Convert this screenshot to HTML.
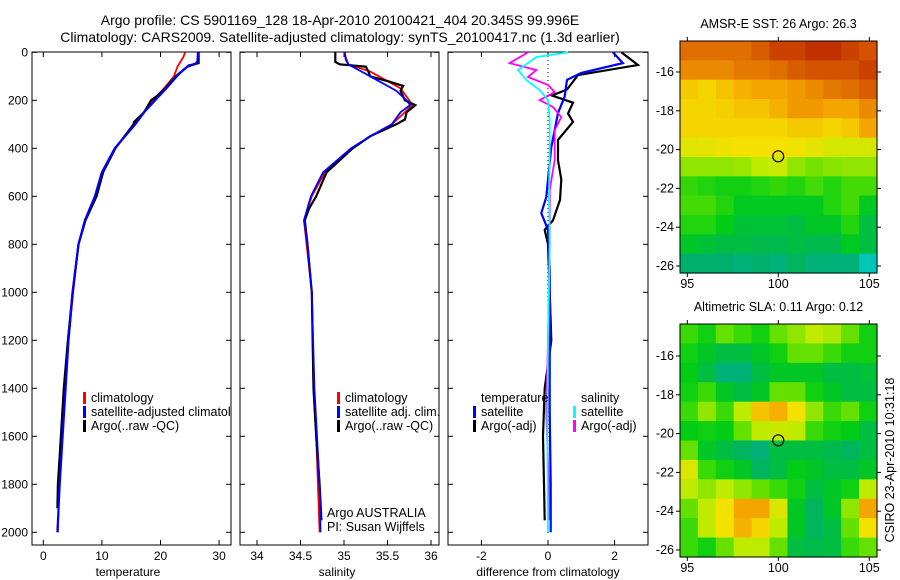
<!DOCTYPE html>
<html><head><meta charset="utf-8"><style>
body{margin:0;background:#fff;}
svg{display:block;font-family:"Liberation Sans",sans-serif;}
text{fill:#000;}
</style></head><body>
<svg id="fig" width="900" height="580" viewBox="0 0 900 580" xmlns="http://www.w3.org/2000/svg">
<defs><clipPath id="p1clip"><rect x="32" y="52" width="199" height="493"/></clipPath></defs>
<rect width="900" height="580" fill="#fff"/>
<text x="340" y="25" font-size="14" text-anchor="middle">Argo profile: CS 5901169_128 18-Apr-2010 20100421_404 20.345S 99.996E</text>
<text x="340" y="42" font-size="14" text-anchor="middle">Climatology: CARS2009. Satellite-adjusted climatology: synTS_20100417.nc (1.3d earlier)</text>
<g id="g"></g>
</svg>
<script>
// ---- profile data ----
const depthTicks=[0,200,400,600,800,1000,1200,1400,1600,1800,2000];
const tempTicks=[0,10,20,30];
const salTicks=[34,34.5,35,35.5,36];
const diffTicks=[-2,0,2];
const tClimD=[0,20,40,60,80,100,150,200,250,300,400,500,600,700,800,1000,1200,1400,1600,1800,2000];
const tClimV=[24.2,23.9,23.4,22.9,22.6,22.3,20.6,18.7,17.1,15.6,12.2,10.0,8.8,7.1,6.0,5.1,4.3,3.7,3.2,2.7,2.5];
const tSatD=[0,40,50,60,80,100,150,200,250,300,400,500,600,700,800,1000,1200,1400,1600,1800,2000];
const tSatV=[26.4,26.3,25.8,24.6,23.6,22.8,21.0,19.1,17.2,15.7,12.2,10.0,8.8,7.1,6.0,5.0,4.3,3.8,3.3,2.8,2.4];
const tArgD=[0,45,55,80,100,150,180,200,250,290,300,400,500,600,700,800,1000,1200,1400,1600,1800,1900];
const tArgV=[26.5,26.5,24.8,23.6,22.6,20.8,19.5,18.4,17.2,15.5,15.4,12.3,10.2,9.1,7.2,6.0,5.0,4.2,3.5,3.0,2.5,2.4];
const sClimD=[0,50,80,100,150,200,220,250,300,350,400,500,600,700,800,1000,1400,1600,1800,2000];
const sClimV=[35.0,35.05,35.3,35.4,35.65,35.75,35.78,35.7,35.55,35.3,35.1,34.78,34.63,34.54,34.57,34.63,34.65,34.68,34.7,34.72];
const sSatD=[0,30,50,80,100,130,160,200,220,250,300,350,400,500,600,700,800,1000,1400,1600,1800,2000];
const sSatV=[35.01,35.02,35.05,35.2,35.3,35.45,35.6,35.72,35.76,35.65,35.55,35.3,35.08,34.76,34.62,34.54,34.58,34.63,34.66,34.69,34.72,34.73];
const sArgD=[0,40,50,60,80,100,120,140,160,200,220,250,280,300,350,400,500,600,650,700,800,1000,1400,1600,1800,1950];
const sArgV=[34.9,34.9,34.95,35.25,35.28,35.3,35.5,35.68,35.65,35.7,35.82,35.72,35.7,35.6,35.3,35.1,34.8,34.68,34.6,34.55,34.58,34.63,34.65,34.68,34.72,34.74];
const dTSatD=[0,45,86,115,186,253,324,395,500,603,670,740,900,1200,1500,1800,2000];
const dTSatV=[1.95,2.25,1.0,0.57,0.5,0.3,0.2,0.1,0.02,-0.05,-0.2,0.0,0.05,0.05,0.05,0.08,0.08];
const dTArgD=[0,53,95,155,180,210,255,290,365,450,530,615,700,740,800,1000,1200,1400,1600,1800,1950];
const dTArgV=[2.2,2.7,0.9,0.57,0.12,0.75,0.6,0.75,0.3,0.3,0.4,0.36,0.15,-0.1,0.0,0.05,0.1,-0.1,-0.15,-0.12,-0.1];
const dSArgD=[0,45,74,103,136,166,199,228,270,324,449,574,800,1200,1500,1800,1950];
const dSArgV=[-0.6,-1.15,-0.35,-0.6,0.0,0.2,-0.25,0.15,0.4,0.2,0.2,0.05,0.05,0.0,-0.05,0.02,0.02];
const dSSatD=[0,20,74,116,157,199,282,400,600,800,1200,1600,2000];
const dSSatV=[0.6,-0.35,-0.9,-0.65,-0.25,0.0,0.05,0.05,0.03,0.05,0.0,-0.02,0.0];
// ---- map data (rows north->south, cols west->east), normalised 0..1 ----
const lonTicks=[95,100,105];
const latTicks=[-16,-18,-20,-22,-24,-26];
const sstGrid=[
[.9,.9,.9,.9,.92,.95,.95,.97,.97,.95,.93],
[.85,.85,.85,.88,.88,.9,.92,.93,.93,.93,.95],
[.74,.72,.75,.78,.8,.8,.82,.85,.88,.9,.92],
[.72,.72,.73,.75,.75,.78,.82,.82,.8,.8,.85],
[.72,.72,.72,.72,.72,.72,.74,.74,.72,.74,.8],
[.66,.67,.69,.7,.7,.7,.69,.67,.64,.64,.64],
[.55,.55,.55,.56,.6,.62,.55,.52,.54,.55,.55],
[.44,.42,.4,.4,.42,.44,.42,.46,.42,.46,.46],
[.46,.46,.42,.36,.36,.36,.36,.36,.42,.46,.36],
[.42,.42,.38,.32,.32,.32,.3,.35,.35,.42,.3],
[.35,.32,.3,.3,.28,.28,.3,.28,.28,.36,.3],
[.22,.22,.22,.2,.22,.2,.25,.2,.2,.2,.05]];
const slaGrid=[
[.45,.4,.5,.45,.4,.5,.55,.6,.58,.5,.4],
[.4,.35,.3,.3,.35,.4,.5,.5,.45,.4,.4],
[.38,.3,.2,.2,.3,.35,.35,.35,.3,.3,.32],
[.4,.45,.35,.3,.35,.5,.5,.4,.35,.3,.3],
[.45,.55,.45,.6,.75,.78,.7,.55,.45,.5,.4],
[.38,.4,.38,.5,.6,.62,.6,.45,.4,.38,.3],
[.5,.35,.3,.25,.2,.3,.3,.3,.28,.25,.3],
[.65,.45,.4,.35,.25,.3,.38,.35,.3,.3,.35],
[.6,.55,.6,.55,.5,.45,.4,.3,.35,.4,.6],
[.5,.6,.7,.8,.8,.65,.35,.25,.35,.55,.8],
[.45,.6,.7,.78,.72,.6,.35,.25,.3,.5,.7],
[.45,.4,.5,.6,.6,.5,.3,.28,.3,.45,.5]];
const floatLon=99.996, floatLat=-20.345;

const NS='http://www.w3.org/2000/svg';
const G=document.getElementById('g');
function el(tag,attrs,parent){const e=document.createElementNS(NS,tag);for(const k in attrs)e.setAttribute(k,attrs[k]);(parent||G).appendChild(e);return e;}
function txt(s,x,y,attrs){const e=el('text',Object.assign({x:x,y:y,'font-size':12},attrs||{}));e.textContent=s;return e;}

const Y0=52.3, YS=0.24, PB=545, PT=52;
const yD=d=>Y0+d*YS;
const panels=[
 {name:'temperature',x0:32,x1:231,fx:v=>43.3+v*5.86,ticks:tempTicks,label:'temperature',lx:128},
 {name:'salinity',x0:240,x1:439,fx:v=>257+(v-34)*87,ticks:salTicks,label:'salinity',lx:337},
 {name:'difference',x0:448,x1:648,fx:v=>548+v*33.3,ticks:diffTicks,label:'difference from climatology',lx:548}];

function line(ds,vs,fx,color,w,name){
  const pts=ds.map((d,i)=>fx(vs[i]).toFixed(1)+','+yD(d).toFixed(1)).join(' ');
  const p=el('polyline',{points:pts,fill:'none',stroke:color,'stroke-width':w,'stroke-linejoin':'miter'});
  
  
}

panels.forEach((P,pi)=>{
  const r=el('rect',{x:P.x0,y:PT,width:P.x1-P.x0,height:PB-PT,fill:'#fff',stroke:'#000','stroke-width':1});
  
  
  P.ticks.forEach(t=>{
    const x=P.fx(t);
    el('line',{x1:x,y1:PB,x2:x,y2:PB-5,stroke:'#000'});
    el('line',{x1:x,y1:PT,x2:x,y2:PT+5,stroke:'#000'});
    const tl=txt(String(t),x,560,{'text-anchor':'middle'});
    
    
  });
  depthTicks.forEach(d=>{
    const y=yD(d);
    el('line',{x1:P.x0,y1:y,x2:P.x0+5,y2:y,stroke:'#000'});
    el('line',{x1:P.x1,y1:y,x2:P.x1-5,y2:y,stroke:'#000'});
    if(pi===0){const tl=txt(String(d),28,y+4,{'text-anchor':'end'});
      
      }
  });
  const xl=txt(P.label,P.lx,576,{'text-anchor':'middle'});
  
  
});

line(tClimD,tClimV,panels[0].fx,'#f00',1.8,'temp-climatology-line');
line(tArgD,tArgV,panels[0].fx,'#000',2.2,'temp-argo-line');
line(tSatD,tSatV,panels[0].fx,'#00f',2.2,'temp-satellite-line');
line(sClimD,sClimV,panels[1].fx,'#f00',1.8,'sal-climatology-line');
line(sArgD,sArgV,panels[1].fx,'#000',2.2,'sal-argo-line');
line(sSatD,sSatV,panels[1].fx,'#00f',1.8,'sal-satellite-line');
const zl=el('line',{x1:548,y1:PT,x2:548,y2:PB-10,stroke:'#000','stroke-dasharray':'1,3'});


line(dTArgD,dTArgV,panels[2].fx,'#000',2.2,'diff-temp-argo-line');
line(dTSatD,dTSatV,panels[2].fx,'#00f',2.2,'diff-temp-satellite-line');
line(dSArgD,dSArgV,panels[2].fx,'#f0f',1.8,'diff-sal-argo-line');
line(dSSatD,dSSatV,panels[2].fx,'#0ff',1.8,'diff-sal-satellite-line');

function legend(x,y,color,label,name,clip){
  if(color){const m=el('rect',{x:x,y:y-10,width:3,height:12,fill:color});
    
    }
  const t=txt(label,x+8,y,{'font-size':12.5});
  if(clip)t.setAttribute('clip-path','url(#p1clip)');
  
  
}
legend(83,402,'#f00','climatology','legend-temp-climatology');
legend(83,416,'#00f','satellite-adjusted climatology','legend-temp-satellite',true);
legend(83,430,'#000','Argo(..raw -QC)','legend-temp-argo');
legend(337,402,'#f00','climatology','legend-sal-climatology');
legend(337,416,'#00f','satellite adj. clim.','legend-sal-satellite');
legend(337,430,'#000','Argo(..raw -QC)','legend-sal-argo');
legend(473,402,null,'temperature','legend-temp-header');
legend(473,416,'#00f','satellite','legend-diff-temp-satellite');
legend(473,430,'#000','Argo(-adj)','legend-diff-temp-argo');
legend(573,402,null,'salinity','legend-sal-header');
legend(573,416,'#0ff','satellite','legend-diff-sal-satellite');
legend(573,430,'#f0f','Argo(-adj)','legend-diff-sal-argo');
let t1=txt('Argo AUSTRALIA',327,517,{'font-size':12.5});


let t2=txt('PI: Susan Wijffels',327,531,{'font-size':12.5});



// ---- maps ----
const stops=[[0,[0,205,205]],[0.22,[0,175,110]],[0.38,[0,205,20]],[0.5,[100,225,0]],[0.6,[190,235,0]],[0.7,[245,225,0]],[0.8,[245,165,0]],[0.9,[225,110,0]],[1,[180,20,0]]];
function cmap(v){for(let i=1;i<stops.length;i++){if(v<=stops[i][0]){const a=stops[i-1],b=stops[i],f=(v-a[0])/(b[0]-a[0]);
  return 'rgb('+a[1].map((c,k)=>Math.round(c+(b[1][k]-c)*f)).join(',')+')';}}return 'rgb(180,20,0)';}
function drawMap(grid,x0,y0,x1,y1,latRef,title,name){
  const fx=lon=>687.3+(lon-95)*18.2;
  const fy=lat=>latRef+(-lat-16)*19.4;
  const rows=grid.length, cols=grid[0].length, cw=(x1-x0)/cols, ch=(y1-y0)/rows;
  const g=el('g',{});
  
  
  grid.forEach((row,r)=>row.forEach((v,c)=>{
    const cell=el('rect',{x:(x0+c*cw).toFixed(2),y:(y0+r*ch).toFixed(2),width:(cw+0.6).toFixed(2),height:(ch+0.6).toFixed(2),fill:cmap(v)},g);
    
    
  }));
  const fr=el('rect',{x:x0,y:y0,width:x1-x0,height:y1-y0,fill:'none',stroke:'#000'});
  
  
  lonTicks.forEach(l=>{const x=fx(l);
    el('line',{x1:x,y1:y0-4,x2:x,y2:y0,stroke:'#000'});el('line',{x1:x,y1:y1,x2:x,y2:y1+4,stroke:'#000'});
    const tl=txt(String(l),x,y1+15,{'text-anchor':'middle','font-size':12.5});
    
    });
  latTicks.forEach(l=>{const y=fy(l);
    el('line',{x1:x0-4,y1:y,x2:x0,y2:y,stroke:'#000'});el('line',{x1:x1,y1:y,x2:x1+4,y2:y,stroke:'#000'});
    const tl=txt(String(l),674,y+4,{'text-anchor':'end','font-size':12.5});
    
    });
  const c=el('circle',{cx:fx(floatLon),cy:fy(floatLat),r:5.5,fill:'none',stroke:'#000','stroke-width':1.2});
  
  
  const tt=txt(title,(x0+x1)/2,y0-13,{'text-anchor':'middle','font-size':12.5});
  
  
}
drawMap(sstGrid,680,41,877,273,72,'AMSR-E SST: 26 Argo: 26.3','sst-map');
drawMap(slaGrid,680,324,877,557,356,'Altimetric SLA: 0.11 Argo: 0.12','sla-map');
const cs=txt('CSIRO 23-Apr-2010 10:31:18',0,0,{'text-anchor':'middle','font-size':12.5,transform:'translate(894,460) rotate(-90)'});


</script>
</body></html>
